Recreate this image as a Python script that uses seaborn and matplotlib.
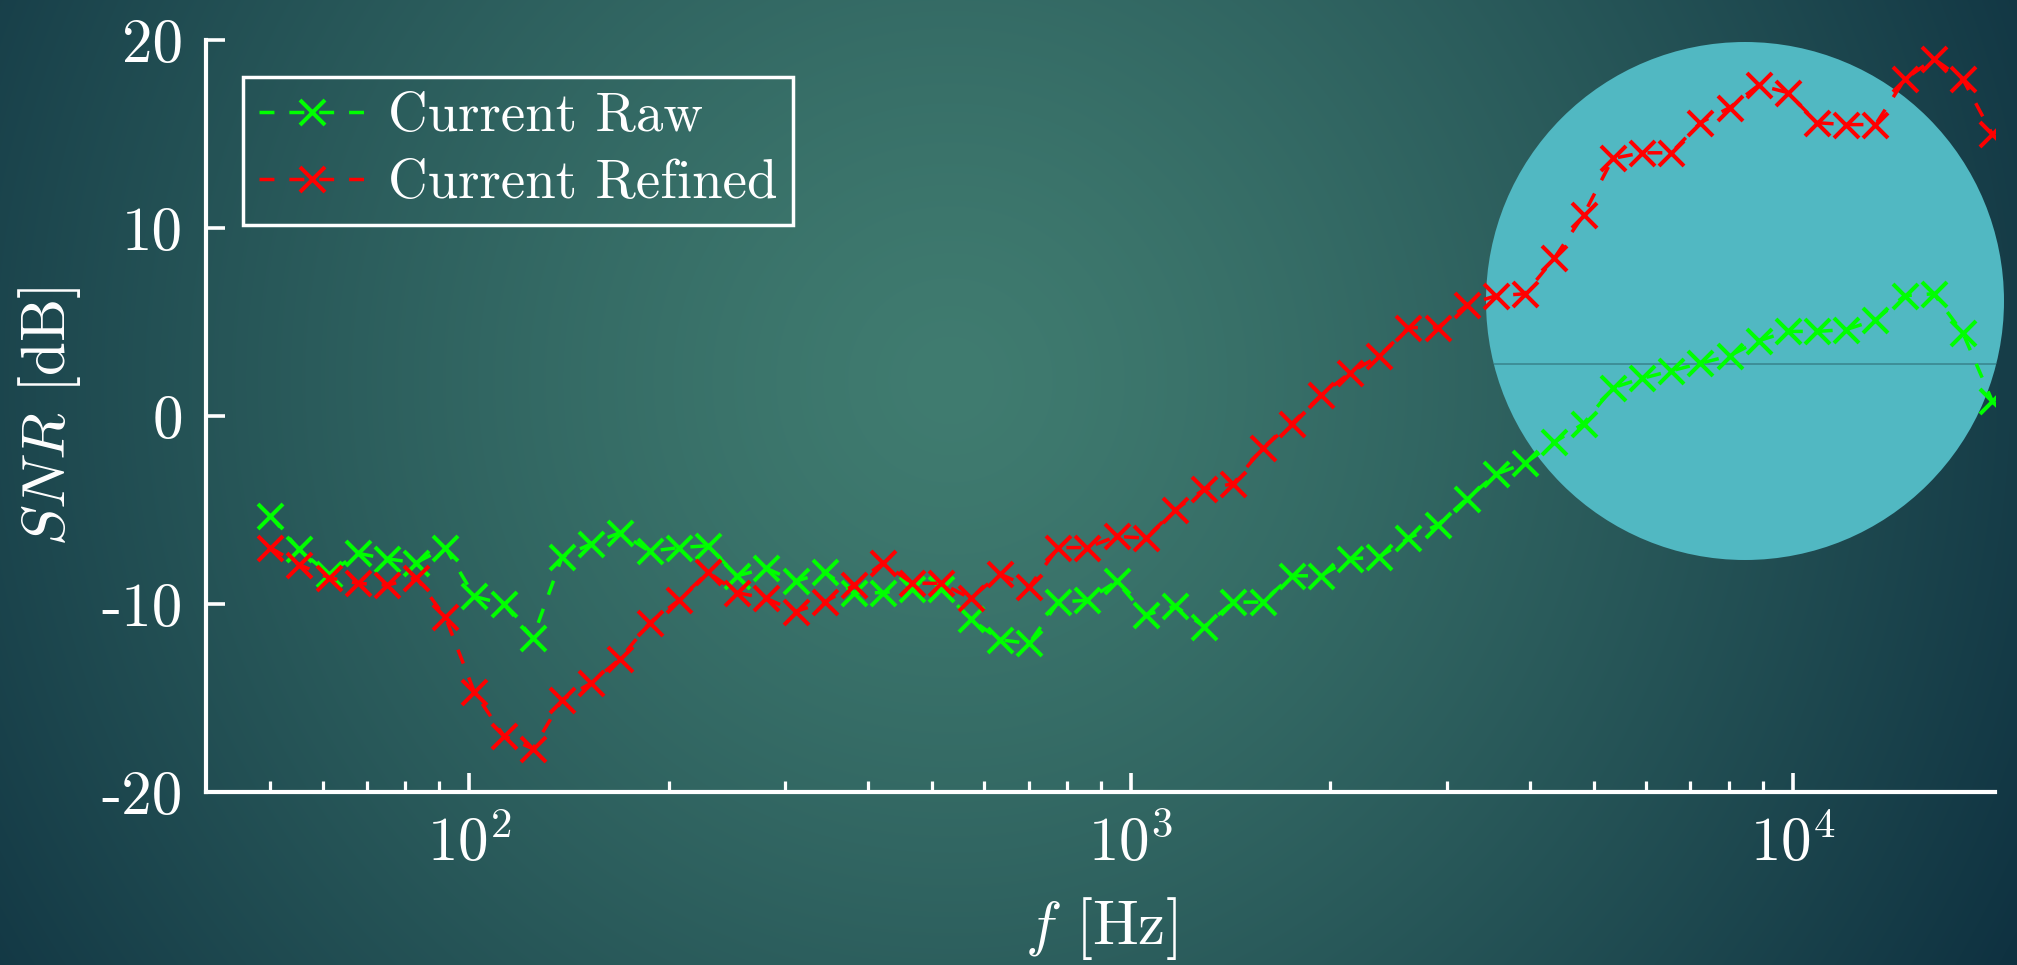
import numpy as np
import pandas as pd
import seaborn as sns
import matplotlib.pyplot as plt
from matplotlib.patches import Ellipse
from matplotlib.lines import Line2D
from matplotlib.ticker import FixedLocator, FixedFormatter, NullFormatter

# ---- data -------------------------------------------------------------
freq_hz = [50.0, 55.3, 61.3, 67.8, 75.1, 83.1, 92.0, 101.8, 112.7, 124.7,
           138.1, 152.8, 169.1, 187.2, 207.2, 229.4, 253.9, 281.0, 311.1, 344.3,
           381.1, 421.9, 467.0, 516.9, 572.1, 633.3, 701.0, 775.9, 858.8, 950.6,
           1052.2, 1164.7, 1289.2, 1427.0, 1579.5, 1748.3, 1935.2, 2142.1, 2371.0, 2624.5,
           2905.0, 3215.5, 3559.2, 3939.7, 4360.8, 4826.9, 5342.9, 5914.0, 6546.2, 7245.9,
           8020.4, 8877.7, 9826.6, 10877, 12040, 13327, 14751, 16328, 18073, 20005]

snr_raw = [-5.3, -7.1, -8.4, -7.3, -7.6, -7.8, -7.0, -9.6, -10.0, -11.8,
           -7.5, -6.8, -6.2, -7.2, -7.0, -6.9, -8.5, -8.1, -8.8, -8.3,
           -9.4, -9.4, -9.2, -9.2, -10.8, -11.9, -12.1, -9.9, -9.8, -8.8,
           -10.6, -10.1, -11.2, -9.9, -9.9, -8.5, -8.5, -7.6, -7.5, -6.5,
           -5.8, -4.4, -3.1, -2.5, -1.4, -0.4, 1.5, 2.0, 2.4, 2.8,
           3.2, 4.0, 4.5, 4.5, 4.6, 5.1, 6.4, 6.5, 4.4, 0.8]

snr_refined = [-7.0, -7.9, -8.6, -8.9, -9.0, -8.6, -10.7, -14.7, -17.0, -17.7,
               -15.1, -14.2, -12.9, -11.0, -9.8, -8.3, -9.4, -9.7, -10.4, -9.9,
               -9.0, -7.8, -8.9, -8.9, -9.7, -8.4, -9.1, -7.0, -7.0, -6.4,
               -6.5, -5.0, -3.9, -3.6, -1.7, -0.4, 1.1, 2.3, 3.2, 4.7,
               4.7, 5.9, 6.4, 6.5, 8.4, 10.7, 13.7, 14.0, 14.0, 15.6,
               16.4, 17.6, 17.2, 15.6, 15.5, 15.5, 17.9, 19.0, 17.9, 15.0]

series_names = ["Current Raw", "Current Refined"]
series_colors = ["#00ff00", "#ff0000"]

y_ticks = [-20, -10, 0, 10, 20]
y_tick_labels = ["-20", "-10", "0", "10", "20"]
x_major_ticks = [1e2, 1e3, 1e4]
x_major_labels = [r"$10^{2}$", r"$10^{3}$", r"$10^{4}$"]
x_minor_ticks = [50, 60, 70, 80, 90,
                 200, 300, 400, 500, 600, 700, 800, 900,
                 2000, 3000, 4000, 5000, 6000, 7000, 8000, 9000]

df = pd.DataFrame({
    "f": freq_hz * 2,
    "snr": snr_raw + snr_refined,
    "series": [series_names[0]] * len(freq_hz) + [series_names[1]] * len(freq_hz),
})

# ---- style ------------------------------------------------------------
sns.set_style("ticks")
plt.rcParams["font.family"] = ["cmr10"]
plt.rcParams["mathtext.fontset"] = "cm"
plt.rcParams["axes.unicode_minus"] = False
plt.rcParams["axes.formatter.use_mathtext"] = True

W, H = 2017, 965
fig = plt.figure(figsize=(W / 100, H / 100), dpi=100)

# radial teal backdrop
bg = fig.add_axes([0, 0, 1, 1], zorder=-10)
yy, xx = np.mgrid[0:H, 0:W]
d = np.hypot(xx - 950.0, yy - 380.0) / 1200.0
t = np.clip(d, 0, 1.2) ** 1.3
c0 = np.array([64, 124, 112]) / 255.0
c1 = np.array([15, 50, 65]) / 255.0
img = c0[None, None, :] + (c1 - c0)[None, None, :] * t[..., None]
bg.imshow(np.clip(img, 0, 1), aspect="auto", interpolation="bilinear")
bg.set_axis_off()

# decorative disc with a thin chord
cx, cy, r = 1745.0, 301.0, 259.0
disc = Ellipse((cx / W, 1 - cy / H), 2 * r / W, 2 * r / H,
               transform=fig.transFigure, facecolor="#51b8c2",
               edgecolor="none", zorder=-5)
fig.patches.append(disc)
chord = Line2D([(cx - r) / W, (cx + r) / W], [1 - 364 / H] * 2,
               transform=fig.transFigure, color="#3a8790", lw=1.2, zorder=-4)
chord.set_clip_path(disc)
fig.lines.append(chord)

# ---- main axes --------------------------------------------------------
ax = fig.add_axes([206 / W, 1 - 792 / H, (1995 - 206) / W, (792 - 40) / H])
ax.set_facecolor("none")
ax.set_xscale("log")

for name, col in zip(series_names, series_colors):
    sns.lineplot(data=df[df["series"] == name], x="f", y="snr", ax=ax,
                 color=col, label=name, errorbar=None, sort=False,
                 linewidth=2.5, linestyle=(0, (4.3, 4.3)),
                 marker="x", markersize=18,
                 markeredgewidth=2.9, markeredgecolor=col)

ax.set_xlim(40, 20200)
ax.set_ylim(-20, 20)

ax.xaxis.set_major_locator(FixedLocator(x_major_ticks))
ax.xaxis.set_major_formatter(FixedFormatter(x_major_labels))
ax.xaxis.set_minor_locator(FixedLocator(x_minor_ticks))
ax.xaxis.set_minor_formatter(NullFormatter())
ax.yaxis.set_major_locator(FixedLocator(y_ticks))
ax.yaxis.set_major_formatter(FixedFormatter(y_tick_labels))

for side in ["top", "right"]:
    ax.spines[side].set_visible(False)
for side in ["left", "bottom"]:
    ax.spines[side].set_color("white")
    ax.spines[side].set_linewidth(3.0)

ax.tick_params(which="major", direction="in", length=13.7, width=2.6,
               color="white", labelcolor="white", labelsize=44, pad=16.5)
ax.tick_params(which="minor", direction="in", length=8, width=2.3,
               color="white")

ax.set_xlabel(r"$f$ [Hz]", color="white", fontsize=44)
ax.set_ylabel(r"$SNR$ [dB]", color="white", fontsize=44)
ax.xaxis.set_label_coords(0.5, -0.137)
ax.xaxis.label.set_va("top")
ax.yaxis.set_label_coords(-0.0688, 0.5)

leg = ax.legend(loc="upper left", bbox_to_anchor=(0.0207, 0.951),
                borderaxespad=0, fontsize=39.5, handlelength=1.95,
                handletextpad=0.40, borderpad=0.29, labelspacing=0.31,
                fancybox=False, numpoints=1)
leg.get_frame().set_facecolor("none")
leg.get_frame().set_edgecolor("white")
leg.get_frame().set_linewidth(2.5)
leg.get_frame().set_alpha(1)
for txt in leg.get_texts():
    txt.set_color("white")

fig.savefig("out.png", dpi=100)
